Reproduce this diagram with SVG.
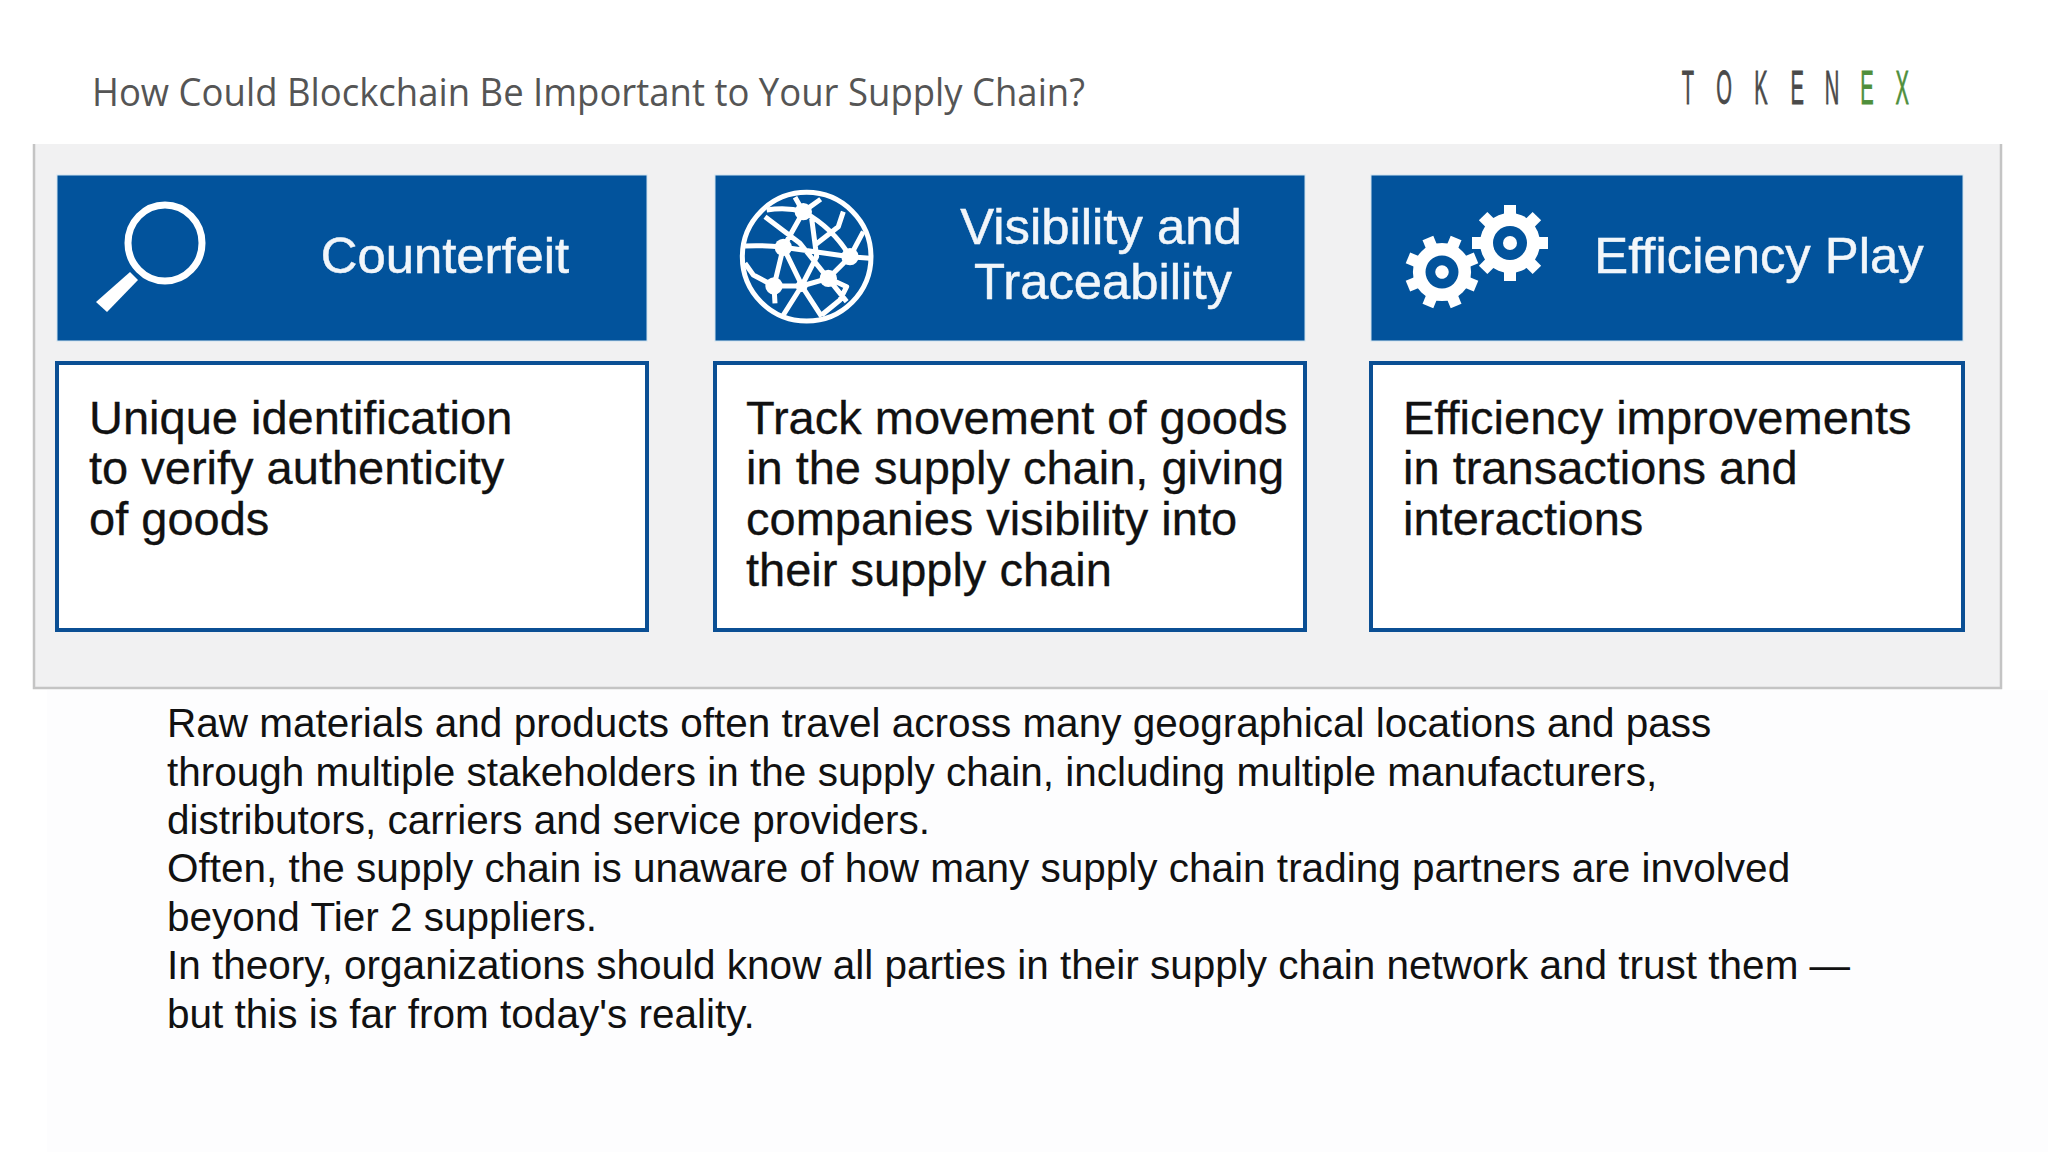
<svg xmlns="http://www.w3.org/2000/svg" width="2048" height="1152" viewBox="0 0 2048 1152">
<style>
.s{font-family:"Liberation Sans",Arial,sans-serif}
.h{font-size:50.8px;fill:#f2f6fa;stroke:#f2f6fa;stroke-width:.5;text-anchor:middle}
.b{font-size:47px;fill:#111;stroke:#111;stroke-width:.3}
.p{font-size:40.5px;fill:#111}
.hd{fill:#02539c;stroke:#cfe3ef;stroke-width:1}
.bx{fill:#fff;stroke:#0b4f94;stroke-width:4}
.lg{font-size:48px;text-anchor:middle;fill:#4a4a4a;stroke:#4a4a4a;stroke-width:.8}
.gn{fill:#4f8f3c;stroke:#4f8f3c}
.gl{fill:none;stroke:#fff;stroke-width:15;stroke-linejoin:round}
.t{fill:#fff}
</style>
<defs>
<g id="gear">
<rect class="t" x="-6" y="-38" width="12" height="76"/>
<rect class="t" x="-6" y="-38" width="12" height="76" transform="rotate(45)"/>
<rect class="t" x="-6" y="-38" width="12" height="76" transform="rotate(90)"/>
<rect class="t" x="-6" y="-38" width="12" height="76" transform="rotate(135)"/>
<circle class="t" r="30"/><circle r="17" fill="#02539c"/><circle class="t" r="7"/>
</g>
</defs>
<rect width="2048" height="1152" fill="#fff"/>
<rect x="47" y="690" width="2001" height="462" fill="#fdfdfe"/>
<text id="title" x="92" y="106" textLength="993" lengthAdjust="spacingAndGlyphs" style="font-family:'Open Sans','Noto Sans',sans-serif;font-size:37.5px;fill:#555">How Could Blockchain Be Important to Your Supply Chain?</text>
<g id="logo" class="s">
<g transform="scale(0.42,1)">
<text class="lg" x="4019" y="104">T</text><text class="lg" x="4105" y="104">O</text><text class="lg" x="4193" y="104">K</text><text class="lg" x="4279" y="104">E</text><text class="lg" x="4362" y="104">N</text>
<text class="lg gn" x="4445" y="104">E</text><text class="lg gn" x="4529" y="104">X</text>
</g></g>
<g id="panel">
<rect x="33" y="144" width="1969" height="544" fill="#f1f1f2"/>
<path d="M34 144V688H2001V144" fill="none" stroke="#c4c4c4" stroke-width="2.5"/>
</g>
<g id="counterfeit" class="s">
<rect class="hd" x="57" y="175" width="590" height="166"/>
<ellipse cx="165" cy="243" rx="37" ry="38" fill="none" stroke="#fff" stroke-width="7"/>
<polygon class="t" points="96,302 107,312 138,280 130,272"/>
<text class="h" x="445" y="273">Counterfeit</text>
<rect class="bx" x="57" y="363" width="590" height="267"/>
<text class="b"><tspan x="89" y="434">Unique identification</tspan><tspan x="89" y="484">to verify authenticity</tspan><tspan x="89" y="535">of goods</tspan></text>
</g>
<g id="visibility" class="s">
<rect class="hd" x="715" y="175" width="590" height="166"/>
<g transform="translate(700,160) scale(.3333)">
<circle class="gl" cx="320" cy="290" r="193"/>
<path class="gl" d="M200 150Q260 140 310 155Q400 205 450 290L490 215M310 155L285 112M310 155L362 118M195 170L300 250L440 425M430 155L415 200L345 255M250 262L450 290L510 295M250 262Q190 255 135 258M310 155L250 262L222 378L305 378L385 355L450 290M250 262L310 385L365 470M335 175L350 290L305 378L250 465M385 355L440 380L420 420L365 465M135 310L160 345L222 378M222 378L225 430"/>
<g fill="#fff"><circle cx="310" cy="155" r="26"/><circle cx="250" cy="262" r="26"/><circle cx="450" cy="290" r="26"/><circle cx="385" cy="355" r="26"/><circle cx="222" cy="378" r="26"/><circle cx="305" cy="378" r="18"/></g>
</g>
<text class="h"><tspan x="1101" y="244">Visibility and</tspan><tspan x="1103" y="299">Traceability</tspan></text>
<rect class="bx" x="715" y="363" width="590" height="267"/>
<text class="b"><tspan x="746" y="434">Track movement of goods</tspan><tspan x="746" y="484">in the supply chain, giving</tspan><tspan x="746" y="535">companies visibility into</tspan><tspan x="746" y="586">their supply chain</tspan></text>
</g>
<g id="efficiency" class="s">
<rect class="hd" x="1371" y="175" width="592" height="166"/>
<use href="#gear" transform="translate(1442,272) rotate(22.5) scale(.97)"/>
<use href="#gear" transform="translate(1510,243)"/>
<text class="h" x="1759" y="273">Efficiency Play</text>
<rect class="bx" x="1371" y="363" width="592" height="267"/>
<text class="b"><tspan x="1403" y="434">Efficiency improvements</tspan><tspan x="1403" y="484">in transactions and</tspan><tspan x="1403" y="535">interactions</tspan></text>
</g>
<text id="body" class="s p"><tspan x="167" y="737">Raw materials and products often travel across many geographical locations and pass</tspan><tspan x="167" y="786">through multiple stakeholders in the supply chain, including multiple manufacturers,</tspan><tspan x="167" y="834">distributors, carriers and service providers.</tspan><tspan x="167" y="882">Often, the supply chain is unaware of how many supply chain trading partners are involved</tspan><tspan x="167" y="931">beyond Tier 2 suppliers.</tspan><tspan x="167" y="979">In theory, organizations should know all parties in their supply chain network and trust them —</tspan><tspan x="167" y="1028">but this is far from today's reality.</tspan></text>
</svg>
